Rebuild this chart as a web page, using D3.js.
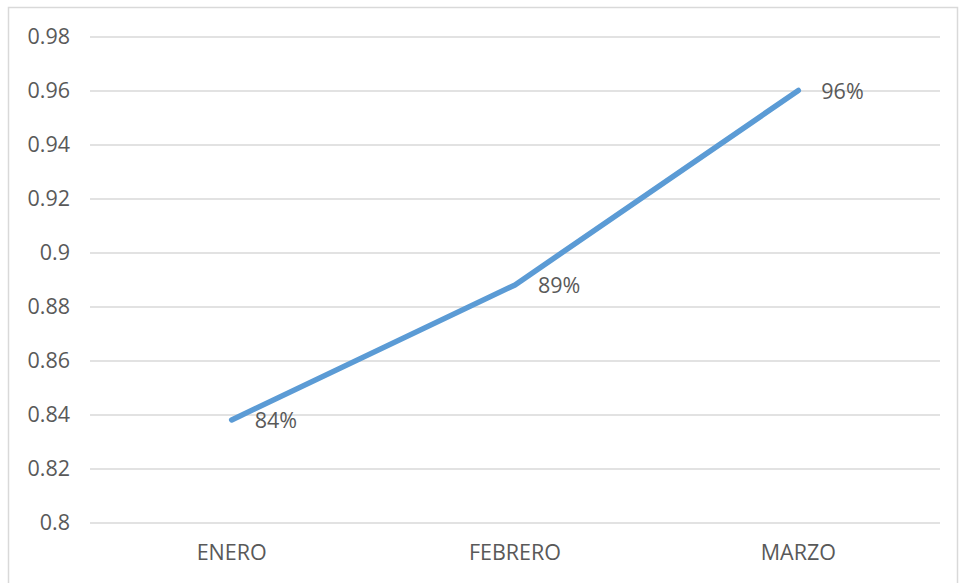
<!DOCTYPE html>
<html>
<head>
<meta charset="utf-8">
<script src="https://cdn.jsdelivr.net/npm/d3@7"></script>
<style>
  body { margin: 0; background: #fff; }
  svg text { font-family: "Open Sans", "Noto Sans", sans-serif; fill: #595959; }
</style>
</head>
<body>
<svg id="chart" width="961" height="583"></svg>
<script>
// data
const months = ["ENERO", "FEBRERO", "MARZO"];
const values = [0.838, 0.888, 0.96];
const yTicks = [0.8, 0.82, 0.84, 0.86, 0.88, 0.9, 0.92, 0.94, 0.96, 0.98];

const fontSize = 21.5;

const svg = d3.select("#chart");
const margin = { top: 36.5, right: 21, bottom: 60.5, left: 90 };
const width = 961 - margin.left - margin.right;
const height = 583 - margin.top - margin.bottom;

// chart frame
svg.append("rect")
    .attr("x", 8.5).attr("y", 7.5)
    .attr("width", 949).attr("height", 600)
    .attr("fill", "none")
    .attr("stroke", "#d9d9d9")
    .attr("stroke-width", 1.5);

const g = svg.append("g").attr("transform", `translate(${margin.left},${margin.top})`);

const x = d3.scaleBand().domain(months).range([0, width]);
const y = d3.scaleLinear().domain([0.8, 0.98]).range([height, 0]);

// gridlines + y labels
const yAxis = g.append("g")
    .call(d3.axisLeft(y).tickValues(yTicks).tickSize(-width).tickPadding(20).tickFormat(d => d3.format("")(+d.toFixed(2))));
yAxis.select(".domain").remove();
yAxis.selectAll("line").attr("stroke", "#d9d9d9").attr("stroke-width", 1.3);
yAxis.selectAll("text").attr("font-size", fontSize).attr("fill", "#595959")
    .style("font-family", '"Open Sans", sans-serif');

// x labels
const xAxis = g.append("g")
    .attr("transform", `translate(0,${height})`)
    .call(d3.axisBottom(x).tickSize(0).tickPadding(22));
xAxis.select(".domain").remove();
xAxis.selectAll("text").attr("font-size", fontSize).attr("fill", "#595959")
    .style("font-family", '"Open Sans", sans-serif');

const pts = months.map((m, i) => ({ m, v: values[i] }));
const cx = d => x(d.m) + x.bandwidth() / 2;

g.append("path")
    .datum(pts)
    .attr("fill", "none")
    .attr("stroke", "#5b9bd5")
    .attr("stroke-width", 5.5)
    .attr("stroke-linecap", "round")
    .attr("stroke-linejoin", "round")
    .attr("d", d3.line().x(cx).y(d => y(d.v)));

g.selectAll(".lbl")
    .data(pts)
    .enter()
    .append("text")
    .attr("class", "lbl")
    .attr("x", d => cx(d) + 23)
    .attr("y", d => y(d.v) + 1)
    .attr("dy", "0.35em")
    .attr("font-size", fontSize)
    .text(d => d3.format(".0%")(d.v));
</script>
</body>
</html>
